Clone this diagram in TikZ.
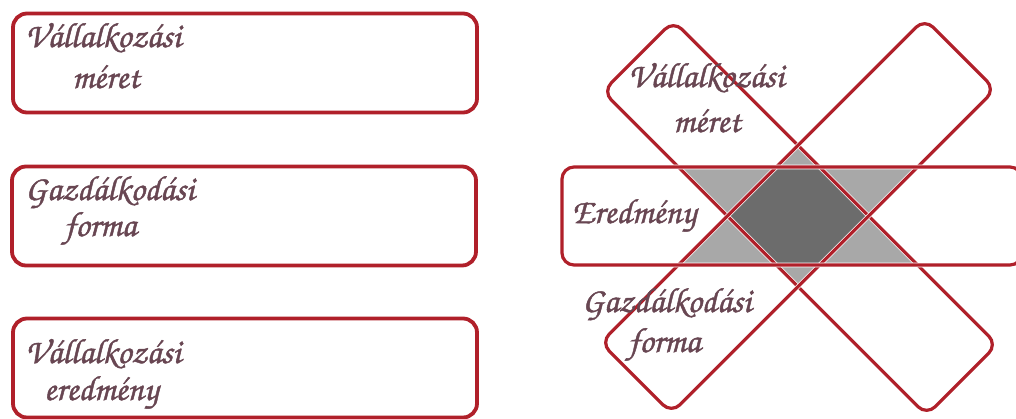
\documentclass[tikz,border=0pt]{standalone}
\usepackage[T1]{fontenc}
\usetikzlibrary{backgrounds}

\definecolor{boxred}{RGB}{176,32,42}
\definecolor{txtgray}{RGB}{104,70,82}
\definecolor{lightshade}{RGB}{168,168,168}
\definecolor{darkshade}{RGB}{108,108,108}
\newcommand{\chancery}{\fontfamily{pzc}\fontseries{m}\fontshape{it}\selectfont\special{pdf:literal 2 Tr 0.45 w}}
\newcommand{\outline}[1]{(#1.north west) -- (#1.north east) -- (#1.south east) -- (#1.south west) -- cycle}

\begin{document}
\begin{tikzpicture}[
    x=1pt,y=-1pt,
    frame/.style={draw=white,double=boxred,double distance=3.2pt,line width=0.7pt,inner sep=0pt},
    lbox/.style={frame,double distance=3.8pt,rounded corners=14pt,minimum width=464pt,minimum height=99pt},
    band/.style={frame,rounded corners=12pt,minimum width=458pt,minimum height=100pt},
    lbl/.style={font=\chancery\fontsize{35}{38}\selectfont,text=txtgray,inner sep=0pt,
        text height=18pt,text depth=3pt,anchor=base west},
]
    \useasboundingbox (0,0) rectangle (1016,418);
    \clip (0,0) rectangle (1016,418);

    %%%
    % left: three separate boxes
    \node[lbox] (meret) at (245,63) {};
    \node[lbox] (forma) at (244,216) {};
    \node[lbox] (eredmeny) at (245,368) {};

    \node[lbl] (m1) at (25,47) {V\'allalkoz\'asi};
    \node[lbl] (m2) at (72,88) {m\'eret};
    \node[lbl] (f1) at (25,200) {Gazd\'alkod\'asi};
    \node[lbl] (f2) at (64,236) {forma};
    \node[lbl] (e1) at (25,363) {V\'allalkoz\'asi};
    \node[lbl] (e2) at (44,400) {eredm\'eny};

    %%%
    % right: the crossing bands
    \node[band,rotate=-45] (Bm) at (800,218) {};
    \node[band,rotate=45] (Bf) at (798,216) {};
    \node[frame,rounded corners=12pt,minimum width=460pt,minimum height=98pt] (Be) at (792,216) {};

    \node[lbl] (bm1) at (628,87) {V\'allalkoz\'asi};
    \node[lbl] (bm2) at (673,132) {m\'eret};
    \node[lbl] (be1) at (572,223) {Eredm\'eny};
    \node[lbl] (bf1) at (582,312) {Gazd\'alkod\'asi};
    \node[lbl] (bf2) at (628,352) {forma};

    % overlaps
    \begin{scope}[on background layer]
        \begin{scope}
            \clip \outline{Bm};
            \fill[lightshade] \outline{Be};
            \fill[lightshade] \outline{Bf};
        \end{scope}
        \begin{scope}
            \clip \outline{Bf};
            \fill[lightshade] \outline{Be};
        \end{scope}
        \begin{scope}
            \clip \outline{Bm};
            \clip \outline{Bf};
            \fill[darkshade] \outline{Be};
        \end{scope}
    \end{scope}
\end{tikzpicture}
\end{document}
